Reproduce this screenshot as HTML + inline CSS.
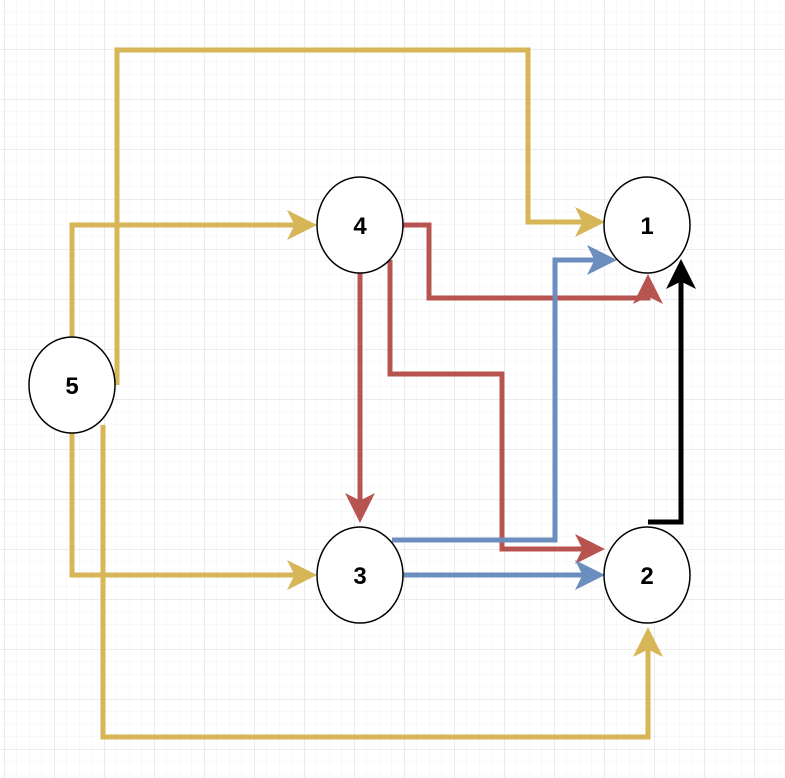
<!DOCTYPE html>
<html><head><meta charset="utf-8"><style>
html,body{margin:0;padding:0;background:#fff;}
svg{display:block;}
</style></head><body>
<svg width="785" height="778" xmlns="http://www.w3.org/2000/svg">
<defs>
<pattern id="mn" width="12.5" height="12.5" patternUnits="userSpaceOnUse" x="4" y="-1">
<path d="M0 0H12.5M0 0V12.5" stroke="#f0f0f0" stroke-width="1" fill="none"/>
</pattern>
<pattern id="mj" width="50" height="50" patternUnits="userSpaceOnUse" x="4" y="-1">
<path d="M0 0H50M0 0V50" stroke="#dadada" stroke-width="1" fill="none"/>
</pattern>
<marker id="ag" markerWidth="6" markerHeight="6" refX="5" refY="3" orient="auto" markerUnits="strokeWidth"><path d="M0,0 L6,3 L0,6 L1.5,3z" fill="#d6b656"/></marker>
<marker id="ar" markerWidth="6" markerHeight="6" refX="5" refY="3" orient="auto" markerUnits="strokeWidth"><path d="M0,0 L6,3 L0,6 L1.5,3z" fill="#b85450"/></marker>
<marker id="ab" markerWidth="6" markerHeight="6" refX="5" refY="3" orient="auto" markerUnits="strokeWidth"><path d="M0,0 L6,3 L0,6 L1.5,3z" fill="#6c8ebf"/></marker>
<marker id="ak" markerWidth="6" markerHeight="6" refX="5" refY="3" orient="auto" markerUnits="strokeWidth"><path d="M0,0 L6,3 L0,6 L1.5,3z" fill="#000"/></marker>
</defs>
<rect width="785" height="778" fill="url(#mn)"/>
<rect width="785" height="778" fill="url(#mj)"/>
<g fill="none" stroke-width="5">
<path d="M117 385V50H528V222H600" stroke="#d6b656" marker-end="url(#ag)"/>
<path d="M72 340V225H312" stroke="#d6b656" marker-end="url(#ag)"/>
<path d="M72 430V575H312" stroke="#d6b656" marker-end="url(#ag)"/>
<path d="M103 425V737H648V632" stroke="#d6b656" marker-end="url(#ag)"/>
<path d="M403 225H429V298H648V279" stroke="#b85450" marker-end="url(#ar)"/>
<path d="M390 260V374H502V549H600" stroke="#b85450" marker-end="url(#ar)"/>
<path d="M360 270V518" stroke="#b85450" marker-end="url(#ar)"/>
<path d="M392 540H555V260H612" stroke="#6c8ebf" marker-end="url(#ab)"/>
<path d="M403 575H600" stroke="#6c8ebf" marker-end="url(#ab)"/>
<path d="M648 522H681V264" stroke="#000" marker-end="url(#ak)"/>
</g>
<g fill="#fff" stroke="#000" stroke-width="1.5">
<ellipse cx="360" cy="225" rx="43" ry="48"/>
<ellipse cx="647" cy="225" rx="43" ry="48"/>
<ellipse cx="72" cy="385" rx="43" ry="48"/>
<ellipse cx="360" cy="575" rx="43" ry="48"/>
<ellipse cx="647" cy="575" rx="43" ry="48"/>
</g>
<g font-family="Liberation Sans, sans-serif" font-weight="bold" font-size="24" text-anchor="middle">
<text x="360" y="234">4</text>
<text x="647" y="234">1</text>
<text x="72" y="394">5</text>
<text x="360" y="584">3</text>
<text x="647" y="584">2</text>
</g>
</svg>
</body></html>
